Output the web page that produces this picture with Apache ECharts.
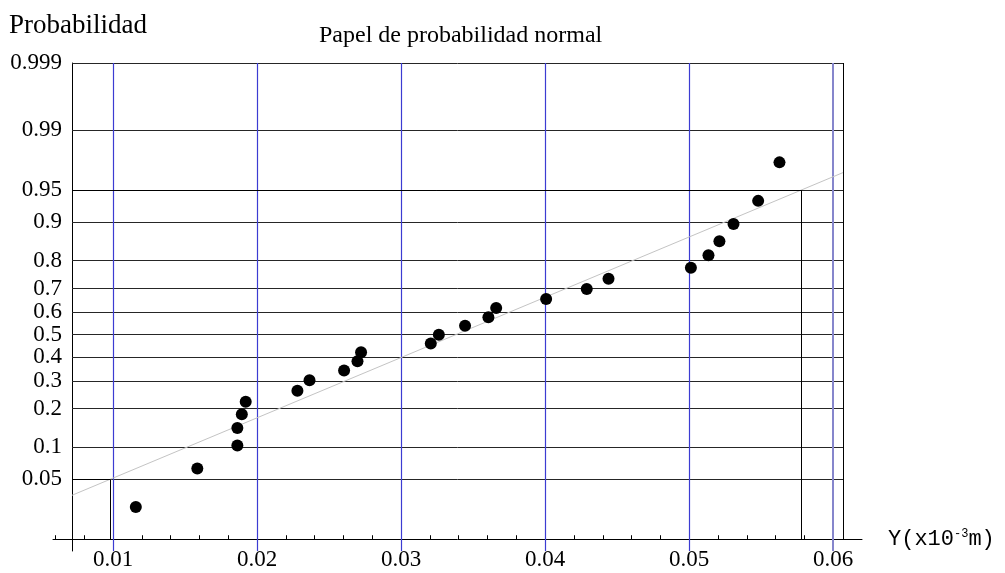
<!DOCTYPE html>
<html>
<head>
<meta charset="utf-8">
<script src="https://cdn.jsdelivr.net/npm/echarts@6/dist/echarts.min.js"></script>
<style>
  html, body { margin: 0; padding: 0; background: #ffffff; }
  #chart { width: 1005px; height: 573px; }
</style>
</head>
<body>
<div id="chart"></div>
<script>
// Measured displacements Y (x10^-3 m), sorted
const X_VALUES = [0.01158, 0.01585, 0.01863, 0.01863, 0.01894, 0.01921, 0.02280, 0.02364,
  0.02604, 0.02697, 0.02722, 0.03206, 0.03262, 0.03444, 0.03606, 0.03660, 0.04007,
  0.04289, 0.04440, 0.05012, 0.05134, 0.05210, 0.05308, 0.05479, 0.05627];
// Cumulative probability assigned to each measurement
const P_VALUES = [0.025, 0.064, 0.104, 0.144, 0.183, 0.223, 0.262, 0.302, 0.342, 0.381,
  0.421, 0.460, 0.500, 0.540, 0.579, 0.619, 0.658, 0.698, 0.738, 0.777, 0.817, 0.856,
  0.896, 0.936, 0.975];

// Probability scale ticks
const PROB_TICKS = [0.05, 0.1, 0.2, 0.3, 0.4, 0.5, 0.6, 0.7, 0.8, 0.9, 0.95, 0.99, 0.999];
const PROB_TICK_LABELS = ['0.05', '0.1', '0.2', '0.3', '0.4', '0.5', '0.6', '0.7', '0.8',
  '0.9', '0.95', '0.99', '0.999'];
// Y axis ticks
const X_TICKS = [0.01, 0.02, 0.03, 0.04, 0.05, 0.06];
const X_TICK_LABELS = ['0.01', '0.02', '0.03', '0.04', '0.05', '0.06'];
const X_MINOR_TICKS = [0.006, 0.008, 0.012, 0.014, 0.016, 0.018, 0.022, 0.024, 0.026, 0.028,
  0.032, 0.034, 0.036, 0.038, 0.042, 0.044, 0.046, 0.048, 0.052, 0.054, 0.056, 0.058];

// Fitted normal line: values read at the 5% and 95% levels
const FIT_P = [0.05, 0.95];
const FIT_Q = [0.0098, 0.05778];

// Plot frame and axis extents (Y units), probability range of the paper
const FRAME_X = [0.00715, 0.0607];
const AXIS_X = [0.00583, 0.0620];
const P_BOTTOM = 0.01;
const P_TOP = 0.999;

// Inverse standard normal CDF (Acklam's rational approximation)
function probit(p) {
  const a = [-3.969683028665376e+01, 2.209460984245205e+02, -2.759285104469687e+02,
    1.383577518672690e+02, -3.066479806614716e+01, 2.506628277459239e+00];
  const b = [-5.447609879822406e+01, 1.615858368580409e+02, -1.556989798598866e+02,
    6.680131188771972e+01, -1.328068155288572e+01];
  const c = [-7.784894002430293e-03, -3.223964580411365e-01, -2.400758277161838e+00,
    -2.549671010229528e+00, 4.374664141464968e+00, 2.938163982698783e+00];
  const d = [7.784695709041462e-03, 3.224671290700398e-01, 2.445134137142996e+00,
    3.754408661907416e+00];
  const pl = 0.02425;
  let q, r;
  if (p < pl) {
    q = Math.sqrt(-2 * Math.log(p));
    return (((((c[0]*q+c[1])*q+c[2])*q+c[3])*q+c[4])*q+c[5]) / ((((d[0]*q+d[1])*q+d[2])*q+d[3])*q+1);
  }
  if (p <= 1 - pl) {
    q = p - 0.5; r = q * q;
    return (((((a[0]*r+a[1])*r+a[2])*r+a[3])*r+a[4])*r+a[5])*q / (((((b[0]*r+b[1])*r+b[2])*r+b[3])*r+b[4])*r+1);
  }
  q = Math.sqrt(-2 * Math.log(1 - p));
  return -(((((c[0]*q+c[1])*q+c[2])*q+c[3])*q+c[4])*q+c[5]) / ((((d[0]*q+d[1])*q+d[2])*q+d[3])*q+1);
}

// Vertical coordinate: normal score measured from the bottom of the paper
const Z0 = probit(P_BOTTOM);
const u = p => probit(p) - Z0;
const Y_MAX = u(P_TOP);
const Y_MIN = -0.134;

const points = X_VALUES.map((x, i) => [x, u(P_VALUES[i])]);
const tickPos = PROB_TICKS.map(u);

// Straight line through the two fitted quantiles, extended to the frame
const fitSlope = (u(FIT_P[1]) - u(FIT_P[0])) / (FIT_Q[1] - FIT_Q[0]);
const fitAt = x => u(FIT_P[0]) + fitSlope * (x - FIT_Q[0]);

const seg = (x1, y1, x2, y2) => [{ coord: [x1, y1] }, { coord: [x2, y2] }];

// Horizontal rulings at the probability levels
const hLines = tickPos.map(y => seg(FRAME_X[0], y, FRAME_X[1], y));
// Vertical rulings at the Y ticks (the last one drawn lighter)
const vLines = X_TICKS.slice(0, -1).map(x => seg(x, Y_MIN, x, Y_MAX));
const vLast = [seg(X_TICKS[X_TICKS.length - 1], Y_MIN, X_TICKS[X_TICKS.length - 1], Y_MAX)];
// Right border and reading lines at the 5% and 95% levels
const blackLines = [
  seg(FRAME_X[1], 0, FRAME_X[1], Y_MAX),
  seg(FRAME_X[0], u(FIT_P[0]), FIT_Q[0], u(FIT_P[0])),
  seg(FIT_Q[0], u(FIT_P[0]), FIT_Q[0], 0),
  seg(FRAME_X[0], u(FIT_P[1]), FIT_Q[1], u(FIT_P[1])),
  seg(FIT_Q[1], u(FIT_P[1]), FIT_Q[1], 0)
];
const fitLine = [seg(FRAME_X[0], fitAt(FRAME_X[0]), FRAME_X[1], fitAt(FRAME_X[1]))];

const ruleSeries = (data, color, width, z) => ({
  type: 'line',
  data: [],
  z: z,
  silent: true,
  color: color,
  markLine: {
    silent: true,
    symbol: ['none', 'none'],
    animation: false,
    label: { show: false },
    emphasis: { disabled: true },
    lineStyle: { color: color, width: width, type: 'solid', opacity: 1 },
    data: data
  }
});

const SERIF = '"Liberation Serif", "Times New Roman", "DejaVu Serif", serif';
const MONO = '"Liberation Mono", "Courier New", "DejaVu Sans Mono", monospace';

const probLabel = v => {
  let best = 0;
  tickPos.forEach((t, i) => { if (Math.abs(t - v) < Math.abs(tickPos[best] - v)) best = i; });
  return PROB_TICK_LABELS[best];
};
const xLabel = v => {
  let best = 0;
  X_TICKS.forEach((t, i) => { if (Math.abs(t - v) < Math.abs(X_TICKS[best] - v)) best = i; });
  return X_TICK_LABELS[best];
};

const chart = echarts.init(document.getElementById('chart'), null, { renderer: 'canvas' });
chart.setOption({
  animation: false,
  backgroundColor: '#ffffff',
  title: [
    {
      text: 'Papel de probabilidad normal',
      left: 314, top: 19,
      textStyle: { fontFamily: SERIF, fontSize: 24, fontWeight: 'normal', color: '#000' }
    },
    {
      text: 'Probabilidad',
      left: 4, top: 7,
      textStyle: { fontFamily: SERIF, fontSize: 27, fontWeight: 'normal', color: '#000' }
    }
  ],
  grid: { left: 53, right: 143, top: 63, bottom: 22, containLabel: false, outerBoundsMode: 'none' },
  xAxis: {
    type: 'value',
    min: AXIS_X[0], max: AXIS_X[1],
    axisLine: { show: true, onZero: true, lineStyle: { color: '#000', width: 1 } },
    axisTick: { show: true, inside: true, length: 4, customValues: X_MINOR_TICKS,
      lineStyle: { color: '#000', width: 1 } },
    axisLabel: { show: true, customValues: X_TICKS, formatter: xLabel, margin: -3,
      fontFamily: SERIF, fontSize: 23, color: '#000' },
    splitLine: { show: false },
    name: '{a|Y(x10}{s|-3}{a|m)}',
    nameLocation: 'end',
    nameGap: 26,
    nameTextStyle: {
      rich: {
        a: { fontFamily: MONO, fontSize: 22, color: '#000' },
        s: { fontFamily: MONO, fontSize: 12, color: '#000', verticalAlign: 'top', padding: [0, 0, 8, 0] }
      }
    }
  },
  yAxis: {
    type: 'value',
    min: Y_MIN, max: Y_MAX,
    offset: -19,
    axisLine: { show: true, onZero: false, lineStyle: { color: '#000', width: 1 } },
    axisTick: { show: true, inside: true, length: 7, customValues: tickPos,
      lineStyle: { color: '#000', width: 1 } },
    axisLabel: { show: true, customValues: tickPos, formatter: probLabel, margin: 10,
      fontFamily: SERIF, fontSize: 23, color: '#000' },
    splitLine: { show: false }
  },
  series: [
    ruleSeries(hLines, '#262626', 1, 1),
    ruleSeries(vLines, '#3c3cd2', 1.2, 2),
    ruleSeries(vLast, '#8686cc', 2, 2),
    ruleSeries(fitLine, '#c4c4c4', 1, 3),
    ruleSeries(blackLines, '#000000', 1, 3),
    {
      type: 'scatter',
      z: 5,
      data: points,
      symbol: 'circle',
      symbolSize: 12,
      itemStyle: { color: '#000000', opacity: 1 },
      silent: true
    }
  ]
});
</script>
</body>
</html>
